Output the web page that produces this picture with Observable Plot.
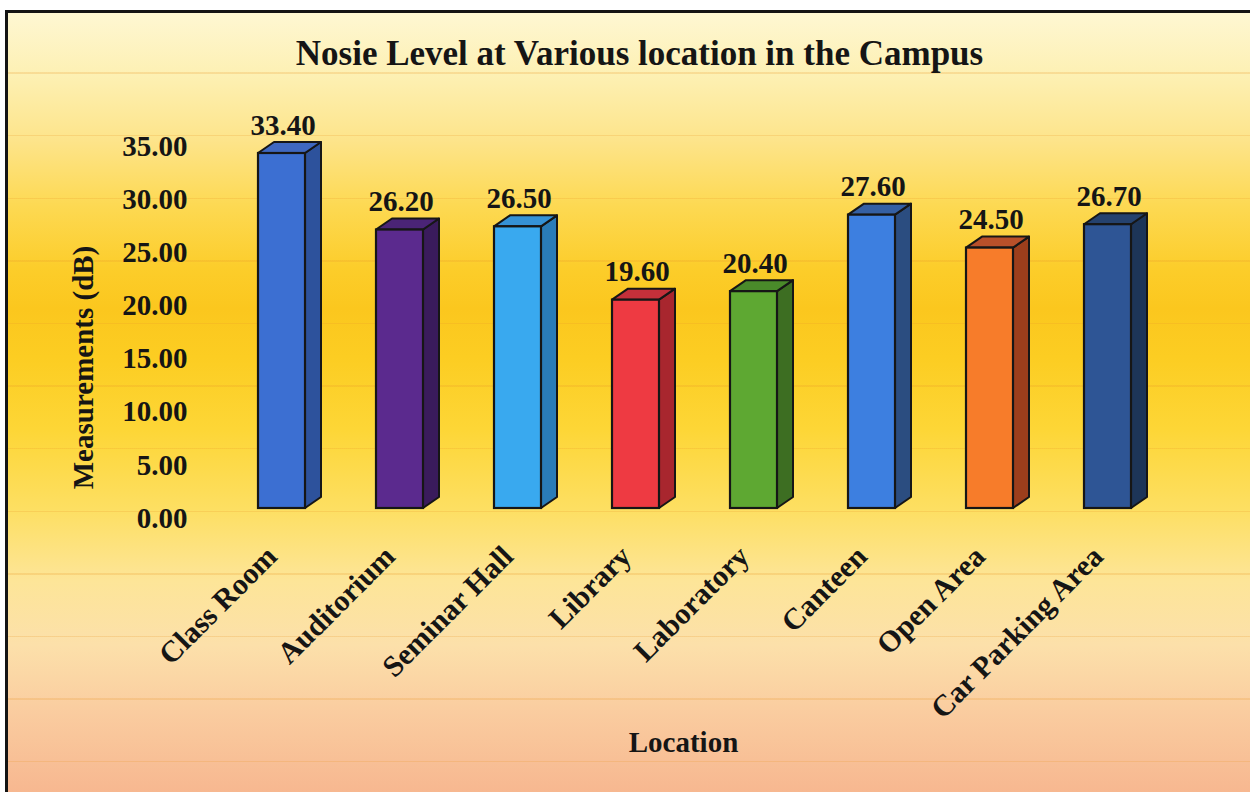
<!DOCTYPE html>
<html>
<head>
<meta charset="utf-8">
<script src="https://cdn.jsdelivr.net/npm/d3@7"></script>
<script src="https://cdn.jsdelivr.net/npm/@observablehq/plot@0.6"></script>
<style>
  html, body { margin: 0; padding: 0; background: #ffffff; }
  body { width: 1250px; height: 792px; position: relative; overflow: hidden; }
  #panel {
    position: absolute; left: 5px; top: 10px; width: 1260px; height: 800px;
    border-left: 3px solid #141414; border-top: 3px solid #141414;
    background-image:
      repeating-linear-gradient(to bottom, rgba(0,0,0,0) 0px, rgba(0,0,0,0) 59.5px, rgba(232,150,40,0.22) 59.5px, rgba(232,150,40,0.22) 60.8px, rgba(0,0,0,0) 60.8px, rgba(0,0,0,0) 62.6px),
      linear-gradient(to bottom, #fef7d2 0%, #fdf0b2 8%, #fde48a 16%, #fdd953 24%, #fccd2a 32%, #fbc71e 37%, #fccd22 43%, #fdd636 52%, #fddf62 62%, #fde598 71%, #fce0aa 79%, #facda0 87%, #f6b28c 100%);
  }
  #chart { position: absolute; left: 0; top: 0; }
</style>
</head>
<body>
<div id="panel"></div>
<div id="chart"></div>
<script>
// ---- data ----
const locations = ["Class Room", "Auditorium", "Seminar Hall", "Library", "Laboratory", "Canteen", "Open Area", "Car Parking Area"];
const noiseLevels = [33.40, 26.20, 26.50, 19.60, 20.40, 27.60, 24.50, 26.70];
const yTicks = [0, 5, 10, 15, 20, 25, 30, 35];
const titleText = "Nosie Level at Various location in the Campus";
const yTitle = "Measurements (dB)";
const xTitle = "Location";

// ---- palette (front / side / top faces) ----
const frontColors = ["#3c6fd2", "#5b2a8e", "#39a9ef", "#ee3a42", "#5ea832", "#3d7fe0", "#f77c2a", "#2e5595"];
const sideColors  = ["#2d529c", "#3a1b5c", "#2a7cb8", "#a8262e", "#3d6e22", "#2b4d80", "#9c3e1c", "#1d3558"];
const topColors   = ["#3f68c0", "#4a2476", "#3592d6", "#c4303a", "#4a8a2a", "#3560a4", "#b8502a", "#25426e"];

const rows = locations.map((loc, i) => ({loc, value: noiseLevels[i], i}));

const DEPTH_X = 16, DEPTH_Y = 11;

// 3D side and top faces drawn through Plot's own x / y scales
function depthFaces(index, scales) {
  const x = scales.x, y = scales.y;
  const bw = x.bandwidth();
  const g = d3.create("svg:g");
  for (const d of rows) {
    const x0 = x(d.loc), x1 = x0 + bw;
    const yb = y(0), yt = y(d.value);
    g.append("polygon")
      .attr("points", [[x1, yt], [x1 + DEPTH_X, yt - DEPTH_Y], [x1 + DEPTH_X, yb - DEPTH_Y], [x1, yb]].map(p => p.join(",")).join(" "))
      .attr("fill", sideColors[d.i]).attr("stroke", "#161616").attr("stroke-width", 2).attr("stroke-linejoin", "round");
    g.append("polygon")
      .attr("points", [[x0, yt], [x0 + DEPTH_X, yt - DEPTH_Y], [x1 + DEPTH_X, yt - DEPTH_Y], [x1, yt]].map(p => p.join(",")).join(" "))
      .attr("fill", topColors[d.i]).attr("stroke", "#161616").attr("stroke-width", 2).attr("stroke-linejoin", "round");
  }
  return g.node();
}

const chart = Plot.plot({
  width: 1250,
  height: 792,
  marginLeft: 223,
  marginRight: 83,
  marginTop: 136,
  marginBottom: 284,
  x: {domain: locations, paddingInner: 0.6, paddingOuter: 0.3, axis: null},
  y: {domain: [0, 35], axis: null},
  style: {
    background: "transparent",
    fontFamily: "'Liberation Serif', 'Times New Roman', 'DejaVu Serif', serif",
    fontWeight: "bold",
    color: "#151515",
    overflow: "visible"
  },
  marks: [
    Plot.axisY({ticks: yTicks, tickSize: 0, tickPadding: 36, dy: 10, tickFormat: d3.format(".2f"), fontSize: 29, fill: "#151515", label: null}),
    depthFaces,
    Plot.barY(rows, {x: "loc", y: "value", fill: d => frontColors[d.i], stroke: "#161616", strokeWidth: 2.2}),
    Plot.text(rows, {x: "loc", y: "value", text: d => d.value.toFixed(2), dy: -28, dx: 1, fontSize: 29, lineAnchor: "middle", fill: "#151515"}),
    Plot.text(locations, {x: d => d, frameAnchor: "bottom", rotate: -45, textAnchor: "end", lineAnchor: "middle", dx: -10, dy: 43, fontSize: 30, fill: "#151515"}),
    Plot.text([titleText], {frameAnchor: "top", textAnchor: "middle", lineAnchor: "middle", dx: -56, dy: -83, fontSize: 35, fill: "#151515"}),
    Plot.text([yTitle], {frameAnchor: "left", textAnchor: "middle", lineAnchor: "middle", rotate: -90, dx: -140, dy: 45, fontSize: 29, fill: "#151515"}),
    Plot.text([xTitle], {frameAnchor: "bottom", textAnchor: "middle", lineAnchor: "middle", dx: -12, dy: 234, fontSize: 29, fill: "#151515"})
  ]
});
document.getElementById("chart").append(chart);
</script>
</body>
</html>
